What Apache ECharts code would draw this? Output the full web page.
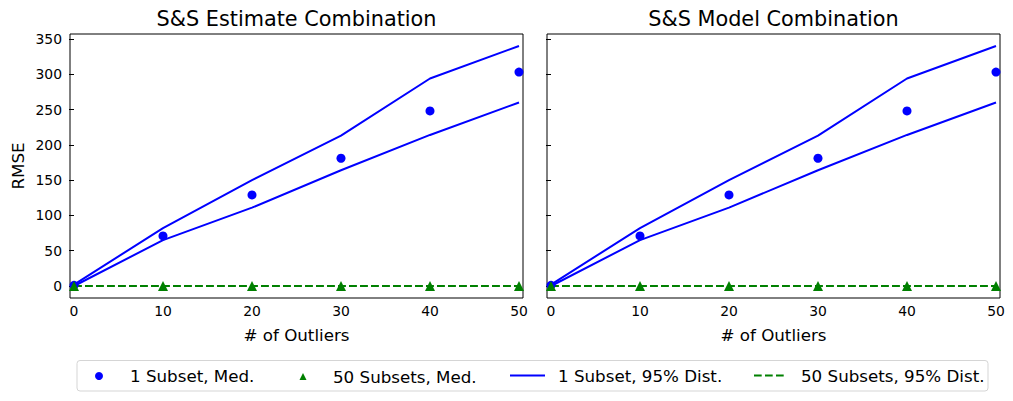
<!DOCTYPE html>
<html>
<head>
<meta charset="utf-8">
<script src="https://cdn.jsdelivr.net/npm/echarts@6/dist/echarts.min.js"></script>
<style>html,body{margin:0;padding:0;background:#fff;}#c{width:1013px;height:401px;}</style>
</head>
<body>
<div id="c"></div>
<script>
// ---- data ----
const outliers = [0, 10, 20, 30, 40, 50];
const oneSubsetMed = [1, 71, 129, 181, 248, 303];
const fiftySubsetsMed = [0, 0, 0, 0, 0, 0];
const oneSubsetUpper = [2, 82, 150, 213, 294, 340];
const oneSubsetLower = [0, 65, 111, 164, 214, 260];
const fiftySubsetsUpper = [0, 0, 0, 0, 0, 0];
const fiftySubsetsLower = [0, 0, 0, 0, 0, 0];
const xTicks = [0, 10, 20, 30, 40, 50];
const yTicks = [0, 50, 100, 150, 200, 250, 300, 350];
const titles = ['S&S Estimate Combination', 'S&S Model Combination'];

const FONT = 'DejaVu Sans';
const BLUE = '#0000ff', GREEN = '#008000';
const pairs = ys => outliers.map((x, i) => [x, ys[i]]);

const grids = [
  {left: 70, top: 34, width: 453, height: 264},
  {left: 547, top: 34, width: 453, height: 264}
];

function xAxis(i) {
  return {
    type: 'value', gridIndex: i, min: -0.45, max: 50.45,
    name: '# of Outliers', nameLocation: 'middle', nameGap: 28,
    nameTextStyle: {fontFamily: FONT, fontSize: 16.7, color: '#000'},
    axisLine: {show: false}, splitLine: {show: false},
    axisTick: {show: true, length: 5, lineStyle: {color: '#000', width: 1}, customValues: xTicks},
    axisLabel: {fontFamily: FONT, fontSize: 13.9, color: '#000', margin: 6, customValues: xTicks}
  };
}
function yAxis(i) {
  return {
    type: 'value', gridIndex: i, min: -17, max: 357,
    name: i === 0 ? 'RMSE' : '', nameLocation: 'middle', nameGap: 44,
    nameTextStyle: {fontFamily: FONT, fontSize: 16.7, color: '#000'},
    axisLine: {show: false}, splitLine: {show: false},
    axisTick: {show: true, length: 5, lineStyle: {color: '#000', width: 1}, customValues: yTicks},
    axisLabel: {show: i === 0, fontFamily: FONT, fontSize: 13.9, color: '#000', margin: 8, customValues: yTicks}
  };
}

const series = [];
for (let i = 0; i < 2; i++) {
  const lineBase = {type: 'line', xAxisIndex: i, yAxisIndex: i, symbol: 'none', silent: true, z: 2};
  series.push(Object.assign({}, lineBase, {name: '1 Subset, 95% Dist.', data: pairs(oneSubsetUpper), lineStyle: {color: BLUE, width: 2}, itemStyle: {color: BLUE}}));
  series.push(Object.assign({}, lineBase, {name: '1 Subset, 95% Dist.', data: pairs(oneSubsetLower), lineStyle: {color: BLUE, width: 2}, itemStyle: {color: BLUE}}));
  series.push(Object.assign({}, lineBase, {name: '50 Subsets, 95% Dist.', data: pairs(fiftySubsetsUpper), lineStyle: {color: GREEN, width: 2, type: [7.7, 3.3]}, itemStyle: {color: GREEN}}));
  series.push(Object.assign({}, lineBase, {name: '50 Subsets, 95% Dist.', data: pairs(fiftySubsetsLower), lineStyle: {color: GREEN, width: 2, type: [7.7, 3.3]}, itemStyle: {color: GREEN}}));
  series.push({type: 'scatter', name: '1 Subset, Med.', xAxisIndex: i, yAxisIndex: i, symbol: 'circle', symbolSize: 9, data: pairs(oneSubsetMed), itemStyle: {color: BLUE, opacity: 1}, z: 3});
  series.push({type: 'scatter', name: '50 Subsets, Med.', xAxisIndex: i, yAxisIndex: i, symbol: 'triangle', symbolSize: 10, data: pairs(fiftySubsetsMed), itemStyle: {color: GREEN, opacity: 1}, z: 4});
}

const legTxt = {fontFamily: FONT, fontSize: 16.7, color: '#000'};
const legends = [
  {data: ['1 Subset, Med.'], left: 95, itemWidth: 8, itemHeight: 8, top: 367.5, textStyle: Object.assign({padding: [0, 0, 0, 22]}, legTxt)},
  {data: ['50 Subsets, Med.'], left: 299.5, itemWidth: 7, itemHeight: 7, top: 368, textStyle: Object.assign({padding: [0, 0, 0, 21.5]}, legTxt)},
  {data: ['1 Subset, 95% Dist.'], left: 509, itemWidth: 35, itemHeight: 9, top: 367, itemStyle: {opacity: 0}, textStyle: Object.assign({padding: [0, 0, 0, 8]}, legTxt)},
  {data: ['50 Subsets, 95% Dist.'], left: 753, itemWidth: 33, itemHeight: 9, top: 367, itemStyle: {opacity: 0}, textStyle: Object.assign({padding: [0, 0, 0, 9]}, legTxt)}
].map(l => Object.assign({padding: 0, selectedMode: false}, l));

const option = {
  animation: false,
  backgroundColor: '#fff',
  grid: grids.map(g => Object.assign({show: true, borderColor: '#000', borderWidth: 1, backgroundColor: 'transparent'}, g)),
  xAxis: [xAxis(0), xAxis(1)],
  yAxis: [yAxis(0), yAxis(1)],
  legend: legends,
  series: series,
  graphic: [
    {type: 'rect', shape: {x: 77, y: 360.5, width: 911, height: 30.5, r: 3}, style: {fill: 'none', stroke: '#d5d5d5', lineWidth: 1}, z: -1},
    {type: 'text', x: 296.5, y: 19, style: {text: titles[0], fontFamily: FONT, fontSize: 20.8, fill: '#000', align: 'center', verticalAlign: 'middle'}},
    {type: 'text', x: 773.5, y: 19, style: {text: titles[1], fontFamily: FONT, fontSize: 20.8, fill: '#000', align: 'center', verticalAlign: 'middle'}}
  ]
};

const chart = echarts.init(document.getElementById('c'), null, {renderer: 'svg'});
chart.setOption(option);
</script>
</body>
</html>
